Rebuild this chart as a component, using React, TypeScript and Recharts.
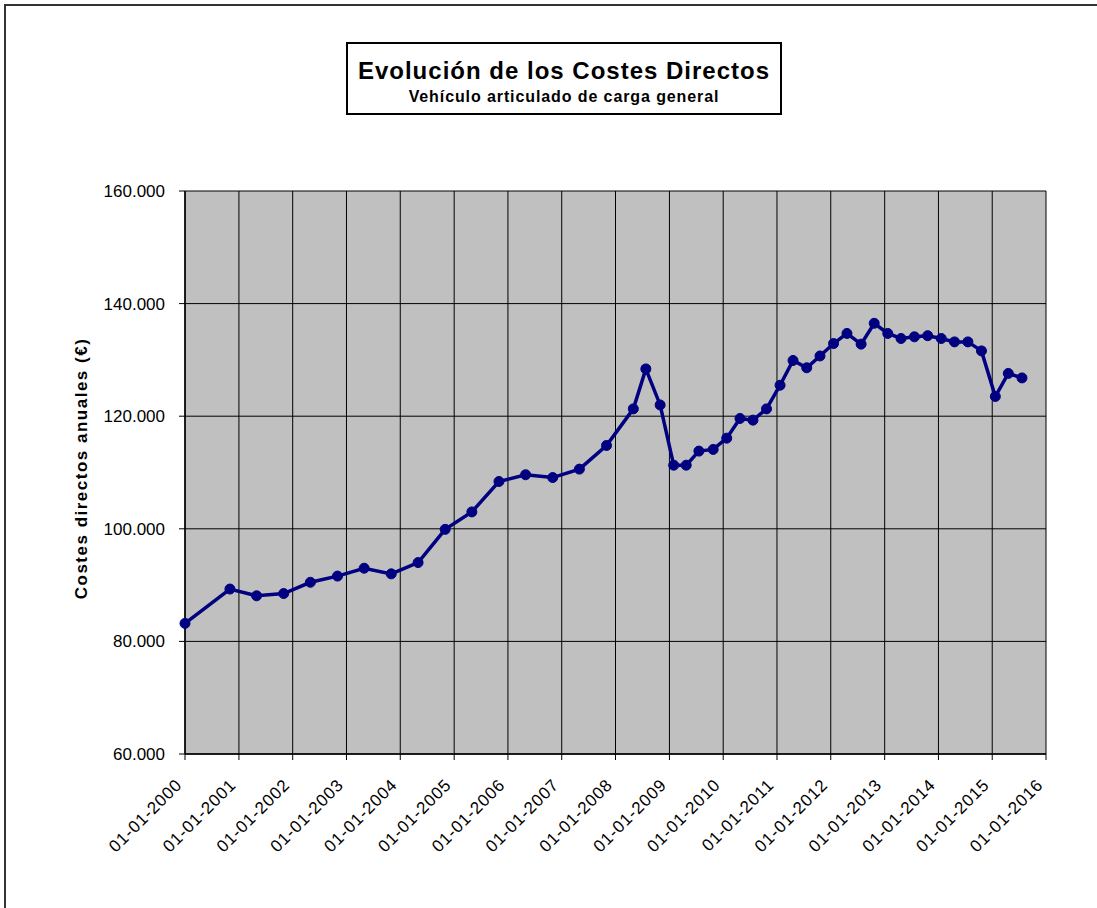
// Evolución de los Costes Directos - vehículo articulado de carga general

import { LineChart, Line, XAxis, YAxis, CartesianGrid } from 'recharts';

const fechas = [
  '2000-01-01', '2000-11-01', '2001-05-01', '2001-11-01', '2002-05-01', '2002-11-01',
  '2003-05-01', '2003-11-01', '2004-05-01', '2004-11-01', '2005-05-01', '2005-11-01',
  '2006-05-01', '2006-11-01', '2007-05-01', '2007-11-01', '2008-05-01', '2008-07-25',
  '2008-10-30', '2009-01-30', '2009-04-25', '2009-07-20', '2009-10-25', '2010-01-25',
  '2010-04-25', '2010-07-22', '2010-10-22', '2011-01-22', '2011-04-20', '2011-07-22',
  '2011-10-20', '2012-01-20', '2012-04-20', '2012-07-25', '2012-10-22', '2013-01-22',
  '2013-04-22', '2013-07-22', '2013-10-20', '2014-01-20', '2014-04-20', '2014-07-20',
  '2014-10-20', '2015-01-22', '2015-04-20', '2015-07-22',
];

const costes = [
  83200, 89300, 88100, 88500, 90500, 91600,
  93000, 92000, 94000, 99900, 103000, 108400,
  109600, 109100, 110600, 114800, 121300, 128400,
  122000, 111300, 111300, 113800, 114100, 116100,
  119600, 119300, 121300, 125500, 129900, 128600,
  130700, 132900, 134700, 132800, 136500, 134700,
  133800, 134100, 134300, 133800, 133200, 133200,
  131600, 123500, 127600, 126800,
];

const anios = [2000, 2001, 2002, 2003, 2004, 2005, 2006, 2007, 2008, 2009, 2010, 2011, 2012, 2013, 2014, 2015, 2016];
const yTicks = [60000, 80000, 100000, 120000, 140000, 160000];

const toTime = (s: string) => {
  const [y, m, d] = s.split('-').map(Number);
  return Date.UTC(y, m - 1, d);
};

const data = fechas.map((f, i) => ({ t: toTime(f), coste: costes[i] }));
const xTicks = anios.map(a => Date.UTC(a, 0, 1));

const FONT = '"Liberation Sans", Arial, Helvetica, sans-serif';

const fmtMiles = (v: number) => v.toLocaleString('de-DE');

const XTick = (props: any) => {
  const { x, y, payload } = props;
  const year = new Date(payload.value).getUTCFullYear();
  return (
    <g transform={`translate(${x - 2},${y + 24})`}>
      <text
        x={0}
        y={0}
        textAnchor="end"
        transform="rotate(-45)"
        fontSize={17}
        letterSpacing={0.8}
        fontFamily={FONT}
        fill="#000"
      >
        {`01-01-${year}`}
      </text>
    </g>
  );
};

const YLabel = (props: any) => {
  const { viewBox } = props;
  const cx = viewBox.x + 81;
  const cy = viewBox.y + viewBox.height / 2 - 4;
  return (
    <text
      x={cx}
      y={cy}
      transform={`rotate(-90, ${cx}, ${cy})`}
      textAnchor="middle"
      dominantBaseline="central"
      fontSize={17}
      fontWeight="bold"
      letterSpacing={1.5}
      fontFamily={FONT}
      fill="#000"
    >
      Costes directos anuales (€)
    </text>
  );
};

export default function App() {
  return (
    <div
      style={{
        position: 'absolute',
        left: 0,
        top: 0,
        width: 1097,
        height: 908,
        overflow: 'hidden',
        background: '#fff',
        fontFamily: FONT,
      }}
    >
      <div
        style={{
          position: 'absolute',
          left: 4,
          top: 4,
          width: 1300,
          height: 1100,
          borderTop: '2px solid #333',
          borderLeft: '2px solid #333',
        }}
      />
      <div style={{ position: 'absolute', left: 0, top: 0 }}>
        <LineChart
          width={1097}
          height={908}
          data={data}
          margin={{ top: 191, right: 51, bottom: 54, left: 0 }}
        >
          <CartesianGrid stroke="#000" strokeWidth={1} fill="#c0c0c0" fillOpacity={1} />
          <XAxis
            dataKey="t"
            type="number"
            domain={[xTicks[0], xTicks[xTicks.length - 1]]}
            ticks={xTicks}
            interval={0}
            height={100}
            tick={<XTick />}
            tickSize={6}
            tickLine={{ stroke: '#000' }}
            axisLine={{ stroke: '#000', strokeWidth: 1.5 }}
          />
          <YAxis
            type="number"
            domain={[60000, 160000]}
            ticks={yTicks}
            width={185}
            tickFormatter={fmtMiles}
            tickSize={6}
            tickMargin={14}
            tickLine={{ stroke: '#000' }}
            axisLine={{ stroke: '#000', strokeWidth: 1.5 }}
            tick={{ fill: '#000', fontSize: 17, fontFamily: FONT }}
            label={<YLabel />}
          />
          <Line
            type="linear"
            dataKey="coste"
            stroke="#000080"
            strokeWidth={3.5}
            dot={{ r: 5, fill: '#000080', stroke: '#000080', strokeWidth: 1 }}
            isAnimationActive={false}
          />
        </LineChart>
      </div>
      <div
        style={{
          position: 'absolute',
          left: 346,
          top: 42,
          width: 436,
          height: 73,
          boxSizing: 'border-box',
          border: '2px solid #000',
          background: '#fff',
          textAlign: 'center',
          fontWeight: 'bold',
          color: '#000',
          paddingTop: 13,
        }}
      >
        <div style={{ fontSize: 24, lineHeight: '28px', letterSpacing: 1 }}>
          Evolución de los Costes Directos
        </div>
        <div style={{ fontSize: 16, lineHeight: '20px', letterSpacing: 0.9, marginTop: 1.5 }}>
          Vehículo articulado de carga general
        </div>
      </div>
    </div>
  );
}
